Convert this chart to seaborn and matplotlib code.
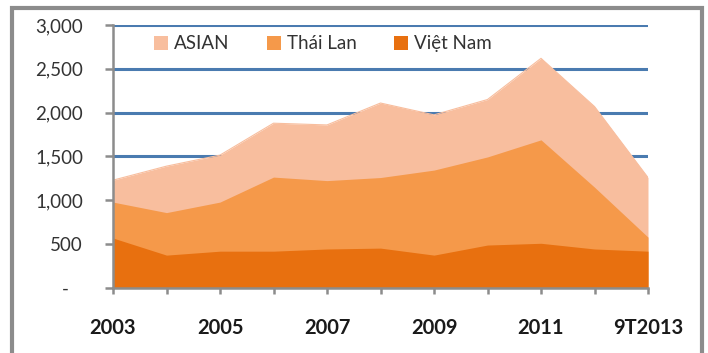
import matplotlib
matplotlib.use("Agg")
import matplotlib.pyplot as plt
from matplotlib.patches import Rectangle
import seaborn as sns
import pandas as pd

# Periods and series values
periods = ["2003", "2004", "2005", "2006", "2007", "2008",
           "2009", "2010", "2011", "2012", "9T2013"]
asian = [1230, 1390, 1516, 1880, 1860, 2110, 1975, 2150, 2620, 2070, 1260]
thai_lan = [980, 860, 980, 1265, 1225, 1260, 1345, 1495, 1690, 1150, 580]
viet_nam = [570, 375, 420, 420, 445, 455, 375, 490, 510, 445, 420]

series_names = ["ASIAN", "Thái Lan", "Việt Nam"]
colors = ["#F8BE9E", "#F5994A", "#E8700F"]
y_ticks = [0, 500, 1000, 1500, 2000, 2500, 3000]
y_labels = ["-   ", "500", "1,000", "1,500", "2,000", "2,500", "3,000"]

df = pd.DataFrame({"period": periods, "idx": range(len(periods)),
                   "ASIAN": asian, "Thái Lan": thai_lan, "Việt Nam": viet_nam})
long = df.melt(id_vars=["period", "idx"], value_vars=series_names,
               var_name="series", value_name="value")

sns.set_theme(style="white")
plt.rcParams["font.family"] = ["Lato", "DejaVu Sans"]

fig = plt.figure(figsize=(7.08, 3.53), dpi=100)
ax = fig.add_axes([113 / 708, 1 - 288 / 353, 535 / 708, 263 / 353])

# Edges of each area via seaborn, then filled down to zero
sns.lineplot(data=long, x="idx", y="value", hue="series",
             hue_order=series_names, palette=colors, linewidth=0.8,
             legend=False, ax=ax, zorder=3)
for name, col in zip(series_names, colors):
    ax.fill_between(df["idx"], 0, df[name], color=col, linewidth=0,
                    label=name, zorder=3)

ax.set_xlim(0, len(periods) - 1)
ax.set_ylim(0, 3000)
ax.set_xlabel("")
ax.set_ylabel("")

ax.set_xticks(range(len(periods)))
ax.set_xticklabels([p if i % 2 == 0 else "" for i, p in enumerate(periods)],
                   fontsize=14.5, fontweight="bold", color="#1a1a1a")
ax.set_yticks(y_ticks)
ax.set_yticklabels(y_labels, fontsize=13.5, color="#333333")

ax.yaxis.grid(True, color="#4A7BB0", linewidth=2.2)
ax.xaxis.grid(False)
ax.set_axisbelow(True)

for side in ["top", "right"]:
    ax.spines[side].set_visible(False)
for side in ["left", "bottom"]:
    ax.spines[side].set_color("#8C8C8C")
    ax.spines[side].set_linewidth(1.8)
    ax.spines[side].set_zorder(4)

ax.tick_params(axis="x", direction="out", length=4.5, width=1.8,
               color="#8C8C8C", pad=17, bottom=True)
ax.tick_params(axis="y", direction="out", length=5.5, width=1.8,
               color="#8C8C8C", pad=16, left=True)

leg = ax.legend(loc="center", bbox_to_anchor=(0.392, 0.928), ncol=3,
                frameon=False, fontsize=13.5, handlelength=0.75,
                handleheight=0.75, handletextpad=0.3, columnspacing=2.0,
                labelcolor="#333333")

# Outer frame around the whole chart
fig.add_artist(Rectangle((12 / 708, -0.05), 690 / 708, 1.05 - 8 / 353,
                         transform=fig.transFigure, fill=False,
                         edgecolor="#8C8C8C", linewidth=3, clip_on=False))

fig.savefig("out.png", dpi=100, facecolor="white")
